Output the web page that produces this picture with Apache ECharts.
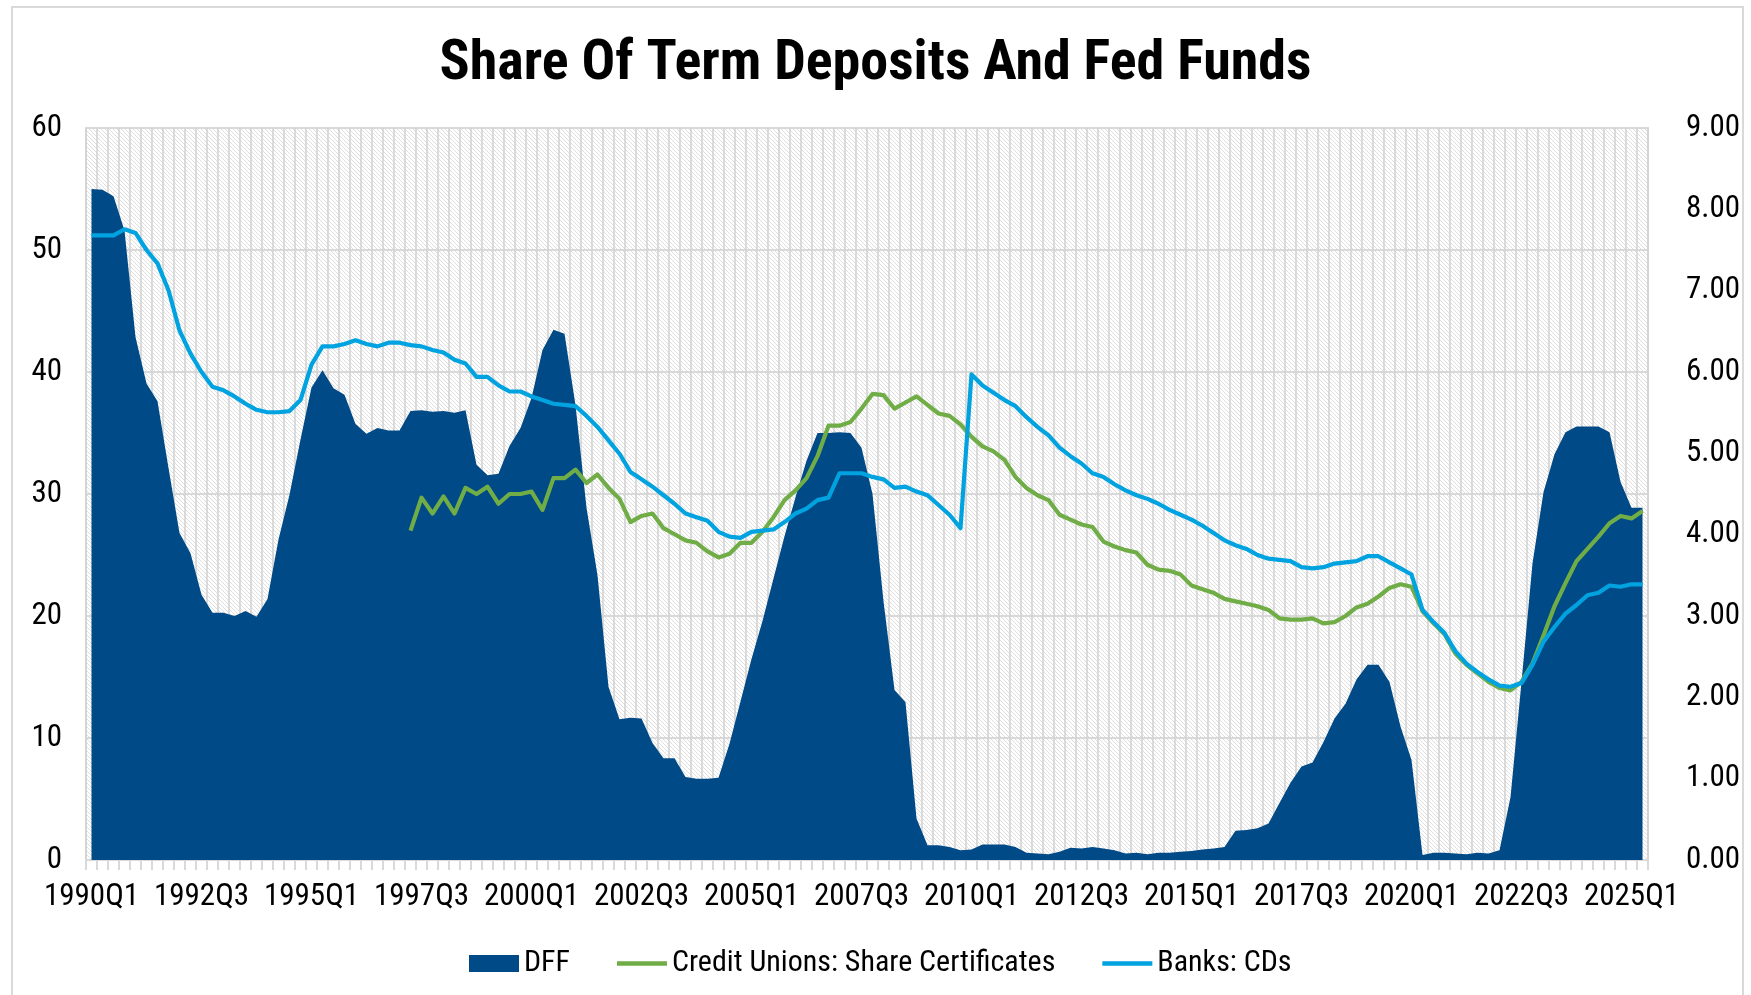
<!DOCTYPE html>
<html>
<head>
<meta charset="utf-8">
<script src="https://cdn.jsdelivr.net/npm/echarts@6/dist/echarts.min.js"></script>
<style>
html,body{margin:0;padding:0;background:#fff;}
#chart{width:1751px;height:995px;}
</style>
</head>
<body>
<div id="chart"></div>
<script>
const categories = [
"1990Q1","1990Q2","1990Q3","1990Q4","1991Q1","1991Q2","1991Q3","1991Q4",
"1992Q1","1992Q2","1992Q3","1992Q4","1993Q1","1993Q2","1993Q3","1993Q4",
"1994Q1","1994Q2","1994Q3","1994Q4","1995Q1","1995Q2","1995Q3","1995Q4",
"1996Q1","1996Q2","1996Q3","1996Q4","1997Q1","1997Q2","1997Q3","1997Q4",
"1998Q1","1998Q2","1998Q3","1998Q4","1999Q1","1999Q2","1999Q3","1999Q4",
"2000Q1","2000Q2","2000Q3","2000Q4","2001Q1","2001Q2","2001Q3","2001Q4",
"2002Q1","2002Q2","2002Q3","2002Q4","2003Q1","2003Q2","2003Q3","2003Q4",
"2004Q1","2004Q2","2004Q3","2004Q4","2005Q1","2005Q2","2005Q3","2005Q4",
"2006Q1","2006Q2","2006Q3","2006Q4","2007Q1","2007Q2","2007Q3","2007Q4",
"2008Q1","2008Q2","2008Q3","2008Q4","2009Q1","2009Q2","2009Q3","2009Q4",
"2010Q1","2010Q2","2010Q3","2010Q4","2011Q1","2011Q2","2011Q3","2011Q4",
"2012Q1","2012Q2","2012Q3","2012Q4","2013Q1","2013Q2","2013Q3","2013Q4",
"2014Q1","2014Q2","2014Q3","2014Q4","2015Q1","2015Q2","2015Q3","2015Q4",
"2016Q1","2016Q2","2016Q3","2016Q4","2017Q1","2017Q2","2017Q3","2017Q4",
"2018Q1","2018Q2","2018Q3","2018Q4","2019Q1","2019Q2","2019Q3","2019Q4",
"2020Q1","2020Q2","2020Q3","2020Q4","2021Q1","2021Q2","2021Q3","2021Q4",
"2022Q1","2022Q2","2022Q3","2022Q4","2023Q1","2023Q2","2023Q3","2023Q4",
"2024Q1","2024Q2","2024Q3","2024Q4","2025Q1","2025Q2"
];

// Effective Fed Funds rate (right axis, %)
const dff = [
8.25,8.24,8.16,7.74, 6.43,5.86,5.64,4.82,
4.02,3.77,3.26,3.04, 3.04,3.00,3.06,2.99,
3.21,3.94,4.49,5.17, 5.81,6.02,5.80,5.72,
5.36,5.24,5.31,5.28, 5.28,5.52,5.53,5.51,
5.52,5.50,5.53,4.86, 4.73,4.75,5.09,5.31,
5.68,6.27,6.52,6.47, 5.59,4.33,3.50,2.13,
1.73,1.75,1.74,1.44, 1.25,1.25,1.02,1.00,
1.00,1.01,1.43,1.95, 2.47,2.94,3.46,3.98,
4.46,4.91,5.25,5.25, 5.26,5.25,5.07,4.50,
3.18,2.09,1.94,0.51, 0.18,0.18,0.16,0.12,
0.13,0.19,0.19,0.19, 0.16,0.09,0.08,0.07,
0.10,0.15,0.14,0.16, 0.14,0.12,0.08,0.09,
0.07,0.09,0.09,0.10, 0.11,0.13,0.14,0.16,
0.36,0.37,0.39,0.45, 0.70,0.95,1.15,1.20,
1.45,1.74,1.92,2.22, 2.40,2.40,2.19,1.64,
1.23,0.06,0.09,0.09, 0.08,0.07,0.09,0.08,
0.12,0.77,2.19,3.65, 4.52,4.99,5.26,5.33,
5.33,5.33,5.26,4.65, 4.33,4.33
];

// Credit Unions: Share Certificates (left axis, % share)
const creditUnions = [
null,null,null,null,null,null,null,null,
null,null,null,null,null,null,null,null,
null,null,null,null,null,null,null,null,
null,null,null,null,null,27.0,29.7,28.4,
29.8,28.4,30.5,30.0,30.6,29.2,30.0,30.0,
30.2,28.7,31.3,31.3,32.0,30.9,31.6,30.5,
29.6,27.7,28.2,28.4,27.2,26.7,26.2,26.0,
25.3,24.8,25.1,26.0,26.0,26.9,28.1,29.5,
30.3,31.3,33.1,35.6,35.6,35.9,37.0,38.2,
38.1,37.0,37.5,38.0,37.3,36.6,36.4,35.7,
34.7,33.9,33.5,32.8,31.4,30.5,29.9,29.5,
28.3,27.9,27.5,27.3,26.1,25.7,25.4,25.2,
24.2,23.8,23.7,23.4,22.5,22.2,21.9,21.4,
21.2,21.0,20.8,20.5,19.8,19.7,19.7,19.8,
19.4,19.5,20.0,20.7,21.0,21.6,22.3,22.6,
22.4,20.4,19.4,18.5,16.9,16.0,15.3,14.6,
14.1,13.9,14.6,16.1,18.4,20.8,22.7,24.5,
25.5,26.5,27.6,28.2,28.0,28.6
];

// Banks: CDs (left axis, % share)
const banksCDs = [
51.2,51.2,51.2,51.7,51.4,50.0,48.9,46.7,
43.4,41.5,40.0,38.8,38.5,38.0,37.4,36.9,
36.7,36.7,36.8,37.7,40.6,42.1,42.1,42.3,
42.6,42.3,42.1,42.4,42.4,42.2,42.1,41.8,
41.6,41.0,40.7,39.6,39.6,38.9,38.4,38.4,
38.0,37.7,37.4,37.3,37.2,36.4,35.5,34.4,
33.3,31.8,31.2,30.6,29.9,29.2,28.4,28.1,
27.8,26.9,26.5,26.4,26.9,27.0,27.1,27.7,
28.4,28.8,29.5,29.7,31.7,31.7,31.7,31.4,
31.2,30.5,30.6,30.2,29.9,29.1,28.3,27.2,
39.8,38.9,38.3,37.7,37.2,36.3,35.5,34.8,
33.8,33.1,32.5,31.7,31.4,30.8,30.3,29.9,
29.6,29.2,28.7,28.3,27.9,27.4,26.8,26.2,
25.8,25.5,25.0,24.7,24.6,24.5,24.0,23.9,
24.0,24.3,24.4,24.5,24.9,24.9,24.4,23.9,
23.4,20.5,19.5,18.6,17.1,16.1,15.4,14.8,
14.3,14.2,14.5,16.0,17.9,19.1,20.2,20.9,
21.7,21.9,22.5,22.4,22.6,22.6
];

const leftTicks = {min: 0, max: 60, interval: 10};
const rightTicks = {min: 0, max: 9, interval: 1};

const FONT = "'Liberation Sans Narrow','Arial Narrow','Roboto Condensed','DejaVu Sans Condensed',sans-serif";

// thin line legend icon (bounding box 50x17, filled band in the middle)
const LINE_ICON = 'path://M0,0L0.01,0L0,0.01Z M0,6.2L50,6.2L50,10.8L0,10.8Z M50,17L49.99,17L50,16.99Z';

// hatched plot background
function makeHatch() {
  const c = document.createElement('canvas');
  c.width = 8; c.height = 8;
  const ctx = c.getContext('2d');
  ctx.fillStyle = '#ffffff';
  ctx.fillRect(0, 0, 8, 8);
  ctx.strokeStyle = '#dedede';
  ctx.lineWidth = 1;
  for (let k = -8; k <= 8; k += 4) {
    ctx.beginPath();
    ctx.moveTo(k - 1, -1);
    ctx.lineTo(k + 9, 9);
    ctx.stroke();
  }
  return c;
}

const chart = echarts.init(document.getElementById('chart'), null, {renderer: 'canvas'});
const option = {
  backgroundColor: '#ffffff',
  animation: false,
  title: {
    text: 'Share Of Term Deposits And Fed Funds',
    left: 'center',
    top: 32,
    textStyle: {fontFamily: FONT, fontWeight: 'bold', fontSize: 56, color: '#000', lineHeight: 56}
  },
  graphic: [{
    type: 'rect',
    shape: {x: 12, y: 7, width: 1731, height: 1010},
    style: {fill: 'none', stroke: '#d9d9d9', lineWidth: 2},
    silent: true, z: -10
  }],
  legend: {
    left: 464,
    top: 943,
    itemWidth: 50,
    itemHeight: 17,
    itemGap: 47,
    textStyle: {fontFamily: FONT, fontSize: 30, color: '#000', lineHeight: 31},
    data: [
      {name: 'DFF', icon: 'rect'},
      {name: 'Credit Unions: Share Certificates', icon: LINE_ICON},
      {name: 'Banks: CDs', icon: LINE_ICON}
    ]
  },
  grid: {
    left: 86, right: 103, top: 128, bottom: 135,
    show: true,
    backgroundColor: {image: makeHatch(), repeat: 'repeat'},
    borderColor: '#d9d9d9',
    borderWidth: 2
  },
  xAxis: {
    type: 'category',
    data: categories,
    boundaryGap: true,
    axisLine: {show: true, lineStyle: {color: '#d9d9d9', width: 2}},
    axisTick: {show: true, interval: 0, length: 10, lineStyle: {color: '#d9d9d9', width: 2}},
    axisLabel: {
      interval: function (idx) { return idx % 10 === 0; },
      margin: 22, fontFamily: FONT, fontSize: 31, color: '#000'
    },
    splitLine: {show: true, interval: 0, lineStyle: {color: '#d3d3d3', width: 1.6}}
  },
  yAxis: [{
    type: 'value',
    min: leftTicks.min, max: leftTicks.max, interval: leftTicks.interval,
    axisLine: {show: false}, axisTick: {show: false},
    axisLabel: {margin: 24, fontFamily: FONT, fontSize: 31, color: '#000'},
    splitLine: {show: true, lineStyle: {color: '#d9d9d9', width: 2}}
  }, {
    type: 'value',
    min: rightTicks.min, max: rightTicks.max, interval: rightTicks.interval,
    position: 'right',
    axisLine: {show: false}, axisTick: {show: false},
    axisLabel: {margin: 38, fontFamily: FONT, fontSize: 31, color: '#000',
      formatter: v => v.toFixed(2)},
    splitLine: {show: false}
  }],
  series: [{
    name: 'DFF',
    type: 'line',
    yAxisIndex: 1,
    data: dff,
    symbol: 'none',
    lineStyle: {width: 0, color: '#004a87'},
    itemStyle: {color: '#004a87'},
    areaStyle: {color: '#004a87', opacity: 1},
    z: 2
  }, {
    name: 'Credit Unions: Share Certificates',
    type: 'line',
    yAxisIndex: 0,
    data: creditUnions,
    symbol: 'none',
    lineStyle: {width: 4.2, color: '#70ad47', join: 'round'},
    itemStyle: {color: '#70ad47'},
    z: 3
  }, {
    name: 'Banks: CDs',
    type: 'line',
    yAxisIndex: 0,
    data: banksCDs,
    symbol: 'none',
    lineStyle: {width: 4.2, color: '#00a3e0', join: 'round'},
    itemStyle: {color: '#00a3e0'},
    z: 4
  }]
};
chart.setOption(option);
</script>
</body>
</html>
